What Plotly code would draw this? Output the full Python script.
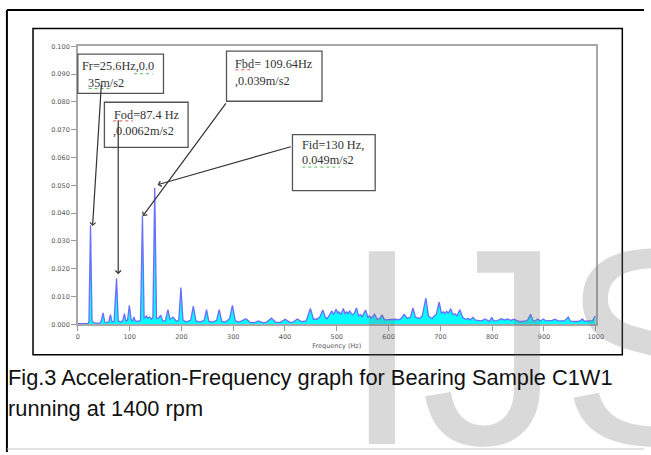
import plotly.graph_objects as go

W, H = 651, 455

# Vibration spectrum: frequency (Hz) vs acceleration (m/s2)
freq_hz = [
    0, 19, 21.5, 24.5, 27.5, 33, 42, 45, 48.8, 52, 57, 60, 63, 66, 70, 74.8, 78,
    84, 87, 90, 93, 96, 99.5, 103, 106, 108, 111, 117, 121, 124.8, 128, 130, 132.5,
    135, 139, 142, 145, 148.5, 152, 156, 160, 164, 169, 174, 178, 181, 184, 187,
    191, 195, 199, 203, 209, 218, 223, 228, 236, 244, 248.5, 253, 261, 268, 273,
    278, 285, 293, 298.5, 304, 312, 324.5, 333, 341, 349, 356, 364, 374, 382, 391,
    400.5, 409, 416, 424, 432, 441, 449, 455, 461, 467, 473, 478, 481, 485, 490.5,
    494, 498.7, 502, 504, 508, 512.7, 516, 519.6, 522, 525, 530, 534, 538, 542,
    545.6, 549, 555.7, 560, 563, 567, 573, 578, 583, 587.5, 592, 598, 606, 614,
    620, 625, 630, 636, 642, 647, 652, 660, 665, 672, 677, 684, 688, 692, 697.7,
    702, 706, 709, 712, 715.5, 720, 724, 728, 732, 737.6, 743, 748, 753.5, 758,
    763, 768, 774, 780, 786.5, 792, 795, 799, 803, 810, 818, 824, 829.5, 836, 842,
    848, 853, 859, 864, 869, 874, 879, 883, 888, 893, 899, 904, 910, 916, 921.5,
    927, 934, 940, 947, 951, 958, 966, 970, 974, 978, 984, 990, 994, 997.5, 1000,
]
accel = [
    0.0002, 0.0002, 0.001, 0.0356, 0.001, 0.0004, 0.0004, 0.001, 0.0041, 0.0008,
    0.0006, 0.001, 0.0035, 0.0008, 0.001, 0.0165, 0.0012,
    0.0008, 0.0015, 0.0038, 0.001, 0.0015, 0.0068, 0.0015, 0.0012, 0.0026, 0.0012,
    0.001, 0.0015, 0.039, 0.0022, 0.0024, 0.003,
    0.0022, 0.0026, 0.0018, 0.0025, 0.049, 0.002, 0.0022, 0.0033, 0.0012, 0.0012,
    0.0053, 0.0018, 0.0022, 0.0026, 0.0018,
    0.001, 0.0015, 0.0132, 0.0015, 0.0008, 0.0015, 0.0065, 0.0012, 0.0008, 0.0014,
    0.0053, 0.001, 0.0008, 0.0014, 0.0053,
    0.001, 0.0008, 0.002, 0.0068, 0.0012, 0.0008, 0.002, 0.0006, 0.0006, 0.0012,
    0.0006, 0.0007, 0.0022, 0.0007, 0.0007,
    0.0018, 0.0007, 0.0008, 0.0019, 0.0009, 0.0012, 0.0057, 0.0018, 0.0018, 0.0025,
    0.0051, 0.0025, 0.002, 0.003, 0.0048,
    0.0035, 0.0054, 0.004, 0.0045, 0.0035, 0.0057, 0.0038, 0.0045, 0.0038, 0.0048,
    0.0033, 0.004, 0.0059, 0.003,
    0.0035, 0.0027, 0.0051, 0.0025, 0.003, 0.0022, 0.0036, 0.0018, 0.002, 0.0034,
    0.0016, 0.0017, 0.0016, 0.0018,
    0.0016, 0.0022, 0.0036, 0.0022, 0.0025, 0.0059, 0.0025, 0.0021, 0.003, 0.0094,
    0.003, 0.002, 0.003, 0.0035, 0.008,
    0.004, 0.0045, 0.0038, 0.0047, 0.004, 0.0056, 0.0035, 0.0038, 0.003, 0.0052,
    0.0025, 0.0018, 0.0021, 0.0016,
    0.0025, 0.0015, 0.0013, 0.0012, 0.0019, 0.0011, 0.001, 0.0025, 0.0012, 0.0013,
    0.002, 0.0015, 0.0019, 0.0014, 0.0018,
    0.0013, 0.001, 0.001, 0.0011, 0.0016, 0.0036, 0.0013, 0.0012, 0.0019, 0.0012,
    0.0019, 0.0012, 0.0013, 0.0014, 0.0018,
    0.0012, 0.0012, 0.0013, 0.0026, 0.0011, 0.001, 0.001, 0.0013, 0.0019, 0.0011,
    0.0012, 0.0011, 0.0013, 0.0026, 0.003,
]

y_ticks = [0.0, 0.01, 0.02, 0.03, 0.04, 0.05, 0.06, 0.07, 0.08, 0.09, 0.10]
x_ticks = [0, 100, 200, 300, 400, 500, 600, 700, 800, 900, 1000]

# Callout boxes: (line 1, line 2)
callouts = [
    ("Fr=25.6Hz,0.0", "35m/s2"),
    ("Fod=87.4 Hz", ",0.0062m/s2"),
    ("Fbd= 109.64Hz", ",0.039m/s2"),
    ("Fid=130 Hz,", "0.049m/s2"),
]

caption_lines = [
    "Fig.3 Acceleration-Frequency graph for Bearing Sample C1W1",
    "running at 1400 rpm",
]


def px(x):
    return x / W


def py(y):
    return 1 - y / H


# plot area in pixels
X0, X1, Y0, Y1 = 77, 603, 43, 326

fig = go.Figure()
fig.add_trace(go.Scatter(
    x=freq_hz, y=accel, mode="lines", fill="tozeroy",
    fillcolor="#00ffff",
    line=dict(color="rgb(105,110,255)", width=1.3),
    hoverinfo="skip", showlegend=False,
))

tick_font = dict(family="DejaVu Sans", size=6.5, color="#555555")
fig.update_layout(
    width=W, height=H,
    margin=dict(l=0, r=0, t=0, b=0),
    paper_bgcolor="white", plot_bgcolor="white",
    xaxis=dict(
        domain=[px(X0), px(X1)], range=[0, 1000],
        tickvals=x_ticks, ticktext=[str(v) for v in x_ticks],
        ticks="outside", ticklen=5, tickcolor="#9a9a9a", tickwidth=1,
        showline=True, linecolor="#a8a8a8", linewidth=1.5, mirror=True,
        showgrid=False, zeroline=False, tickfont=tick_font,
        title=dict(text="Frequency (Hz)", font=tick_font, standoff=4),
    ),
    yaxis=dict(
        domain=[py(Y1), py(Y0)], range=[0, 0.1],
        tickvals=y_ticks, tickformat=".3f",
        ticks="outside", ticklen=5, tickcolor="#9a9a9a", tickwidth=1,
        showline=True, linecolor="#a8a8a8", linewidth=1.5, mirror=True,
        showgrid=False, zeroline=False, tickfont=tick_font,
    ),
)

shapes = []
# page frame
shapes.append(dict(type="line", xref="paper", yref="paper",
                   x0=px(5), x1=px(652), y0=py(6), y1=py(6),
                   line=dict(color="black", width=2)))
shapes.append(dict(type="line", xref="paper", yref="paper",
                   x0=px(5), x1=px(5), y0=py(6), y1=py(456),
                   line=dict(color="black", width=2)))
shapes.append(dict(type="line", xref="paper", yref="paper",
                   x0=px(5), x1=px(652), y0=py(453), y1=py(453),
                   line=dict(color="#c8c8c8", width=1)))
# chart frame
shapes.append(dict(type="rect", xref="paper", yref="paper",
                   x0=px(31.5), x1=px(630), y0=py(25), y1=py(357),
                   line=dict(color="black", width=1.5)))

# callout boxes in pixels: (left, top, right, bottom)
boxes = [(77, 51, 164, 91), (104, 100, 189, 146), (228, 48, 325, 99), (295, 133, 379, 190)]
for (l, t, r, b) in boxes:
    shapes.append(dict(type="rect", xref="paper", yref="paper",
                       x0=px(l), x1=px(r), y0=py(b), y1=py(t),
                       fillcolor="white", layer="above",
                       line=dict(color="#555555", width=1.3)))

# spell-check underlines
squiggles = [(134, 153, 71, "#5cb85c"), (88, 110, 86, "#5cb85c"),
             (113, 133, 119, "#e05050"), (237, 255, 67, "#e05050"),
             (305, 343, 166, "#5cb85c")]
for (a, b, y, c) in squiggles:
    shapes.append(dict(type="line", xref="paper", yref="paper",
                       x0=px(a), x1=px(b), y0=py(y), y1=py(y), layer="above",
                       line=dict(color=c, width=1, dash="dot")))
fig.update_layout(shapes=shapes)

annotations = []
# watermark
annotations.append(dict(
    text="IJSER", xref="paper", yref="paper", x=px(344), y=py(188),
    xanchor="left", yanchor="top", showarrow=False,
    font=dict(family="Liberation Sans", size=280, color="rgba(120,120,120,0.28)"),
))

# callout text lines: (x, y) pixel positions of each line's left-middle
text_pos = [((79, 63), (85, 80)), ((112, 113), (111, 129)),
            ((235, 61), (235, 78)), ((303, 144), (303, 159))]
serif = dict(family="Liberation Serif", size=12.3, color="#333333")
for (l1, l2), (p1, p2) in zip(callouts, text_pos):
    for txt, (tx, ty) in ((l1, p1), (l2, p2)):
        annotations.append(dict(
            text=txt, xref="paper", yref="paper", x=px(tx), y=py(ty),
            xanchor="left", yanchor="middle", showarrow=False, font=serif,
        ))

# arrows: tip (freq, accel) and tail (freq, accel) in data units
arrows = [((28.5, 0.0353), (45.6, 0.0866)),
          ((78, 0.018), (78, 0.0739)),
          ((125.5, 0.0389), (288, 0.0800)),
          ((154, 0.0502), (414, 0.0640))]
for (tip, tail) in arrows:
    annotations.append(dict(
        text="", x=tip[0], y=tip[1], xref="x", yref="y",
        ax=tail[0], ay=tail[1], axref="x", ayref="y",
        showarrow=True, arrowhead=4, arrowsize=0.9, arrowwidth=1.2,
        arrowcolor="#333333",
    ))

# caption
cap_font = dict(family="Liberation Sans", size=21.8, color="#111111")
for txt, ty in zip(caption_lines, (380, 412)):
    annotations.append(dict(
        text=txt, xref="paper", yref="paper", x=px(4), y=py(ty),
        xanchor="left", yanchor="middle", showarrow=False, font=cap_font,
    ))

fig.update_layout(annotations=annotations)
fig.write_html("out.html")
